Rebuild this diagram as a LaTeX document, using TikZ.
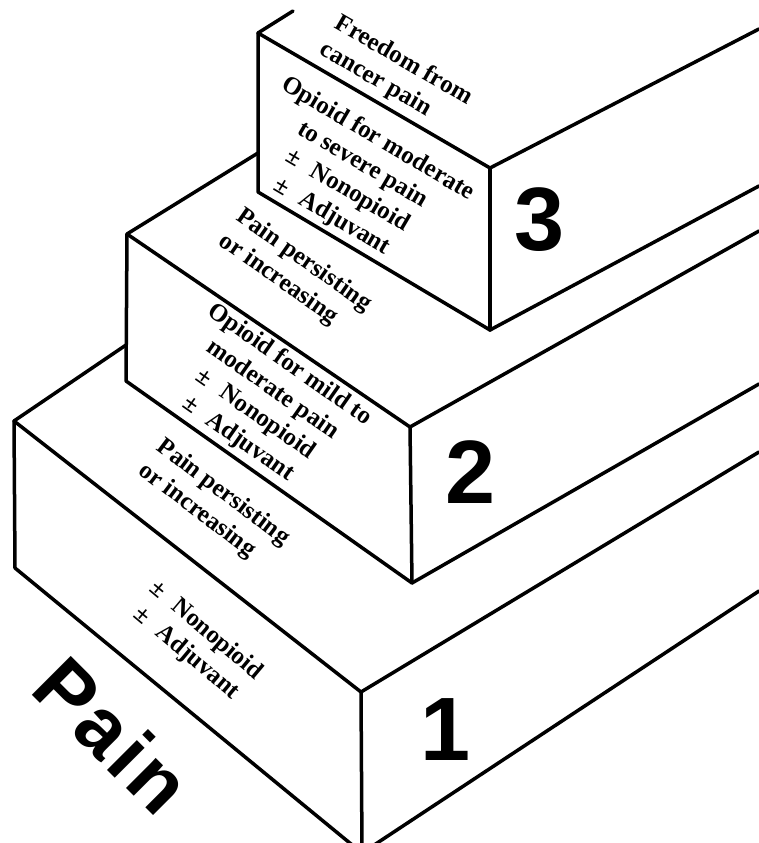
\documentclass[tikz,border=0pt]{standalone}
\usepackage{fontspec}
\setmainfont{Liberation Serif}
\setsansfont{Liberation Sans}
\usetikzlibrary{positioning}

\begin{document}
\begin{tikzpicture}[x=1pt, y=-1pt,
    edge/.style={line width=3.5pt, line join=round, line cap=round},
    facetext/.style={font=\fontsize{25}{30}\selectfont\bfseries, align=center, inner sep=0pt},
    toptext/.style={facetext, align=left},
    stepnum/.style={font=\fontsize{90}{90}\selectfont\sffamily\bfseries, inner sep=0pt},
    painlabel/.style={font=\fontsize{80}{80}\selectfont\sffamily\bfseries, inner sep=0pt}]
                \clip (0,0) rectangle (759,843);

                % Step 3
                \coordinate (T3) at (293,11);
                \coordinate (A3) at (258,33);
                \coordinate (B3) at (490,168);
                \coordinate (C3) at (490,330);
                \coordinate (D3) at (258,192);
                \coordinate (R3a) at (759,29);
                \coordinate (R3b) at (759,186);

                % Step 2
                \coordinate (E2) at (258,153);
                \coordinate (A2) at (127,234);
                \coordinate (B2) at (410,427);
                \coordinate (C2) at (412,583);
                \coordinate (D2) at (126,381);
                \coordinate (R2a) at (759,231);
                \coordinate (R2b) at (759,384);

                % Step 1
                \coordinate (E1) at (126,345);
                \coordinate (A1) at (14,421);
                \coordinate (B1) at (361,692);
                \coordinate (C1) at (362,853);
                \coordinate (D1) at (15,568);
                \coordinate (R1a) at (759,452);
                \coordinate (R1b) at (759,591);

                % Edges
                \draw[edge] (T3) -- (A3) -- (B3) -- (R3a);
                \draw[edge] (A3) -- (D3) -- (C3) -- (R3b);
                \draw[edge] (B3) -- (C3);

                \draw[edge] (E2) -- (A2) -- (B2) -- (R2a);
                \draw[edge] (A2) -- (D2) -- (C2) -- (R2b);
                \draw[edge] (B2) -- (C2);

                \draw[edge] (E1) -- (A1) -- (B1) -- (R1a);
                \draw[edge] (A1) -- (D1) -- (C1) -- (R1b);
                \draw[edge] (B1) -- (C1);

                % Labels
                \node[toptext, rotate=-30] (freedom) at (396,74) {Freedom from\\cancer pain};
                \node[facetext, rotate=-30.5] (opioid3) at (355,178) {Opioid for moderate\\to severe pain\\±\hspace{15pt}Nonopioid\\±\hspace{15pt}Adjuvant};
                \node[toptext, rotate=-35] (persist2) at (295,273) {Pain persisting\\or increasing};
                \node[facetext, rotate=-35] (opioid2) at (264,402) {Opioid for mild to\\moderate pain\\±\hspace{15pt}Nonopioid\\±\hspace{15pt}Adjuvant};
                \node[toptext, rotate=-37] (persist1) at (214,505) {Pain persisting\\or increasing};
                \node[facetext, rotate=-40] (nonopioid1) at (196,642) {±\hspace{15pt}Nonopioid\\±\hspace{15pt}Adjuvant};
                \node[painlabel, rotate=-45] (pain) at (113,735) {P\kern4pt a\kern4pt i\kern4pt n};

                % Step numbers
                \node[stepnum] (num3) at (540,220) {3};
                \node[stepnum] (num2) at (471,472) {2};
                \node[stepnum] (num1) at (446,730) {1};
\end{tikzpicture}
\end{document}
